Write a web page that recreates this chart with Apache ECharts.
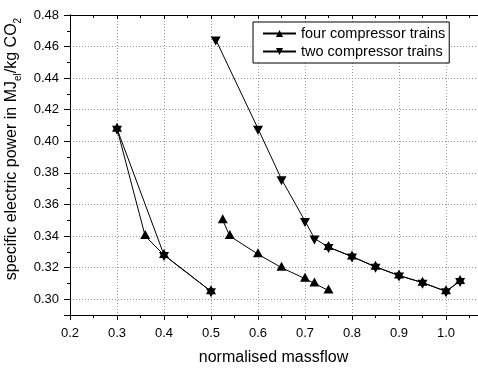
<!DOCTYPE html>
<html><head><meta charset="utf-8">
<script src="https://cdn.jsdelivr.net/npm/echarts@6/dist/echarts.min.js"></script>
<style>html,body{margin:0;padding:0;background:#fff}#c{width:478px;height:368px}</style>
</head><body><div id="c"></div>
<script>
// Data (x = normalised massflow, y = MJ_el/kg CO2)
const fourA = [[0.30,0.408],[0.36,0.340],[0.40,0.328],[0.50,0.305]];
const fourB = [[0.525,0.350],[0.54,0.340],[0.60,0.3285],[0.65,0.320],[0.70,0.313],[0.72,0.310],[0.75,0.3055]];
const fourC = [[0.75,0.333],[0.80,0.327],[0.85,0.3205],[0.90,0.315],[0.95,0.3105],[1.00,0.305],[1.03,0.3115]];
const twoA = [[0.30,0.408],[0.40,0.328],[0.50,0.305]];
const twoB = [[0.51,0.4645],[0.60,0.408],[0.65,0.376],[0.70,0.3495],[0.72,0.3385],[0.75,0.333],[0.80,0.327],[0.85,0.3205],[0.90,0.315],[0.95,0.3105],[1.00,0.305],[1.03,0.3115]];
const seriesNames = ['four compressor trains', 'two compressor trains'];
const xTitle = 'normalised massflow';

const UP = 'triangle';
const DOWN = 'path://M0,0L10,0L5,9Z';

function mk(name, data, sym, off) {
  return {
    type: 'line', name: name, data: data,
    symbol: sym, symbolSize: [10, 9], symbolOffset: [0, off], showSymbol: true,
    lineStyle: {color: '#000', width: 1},
    itemStyle: {color: '#000'},
    emphasis: {disabled: true},
    animation: false, xAxisIndex: 0, yAxisIndex: 1
  };
}

const chart = echarts.init(document.getElementById('c'), null, {renderer: 'canvas'});
chart.setOption({
  backgroundColor: '#fff',
  textStyle: {fontFamily: 'Liberation Sans, Arial, sans-serif'},
  grid: {left: 70, top: 15, right: -15, bottom: 53, containLabel: false, outerBoundsMode: 'none'},
  legend: {
    data: seriesNames, orient: 'vertical', left: 253, top: 22,
    itemWidth: 33, itemHeight: 9, itemGap: 3,
    padding: [4, 4, 4, 9],
    borderColor: '#000', borderWidth: 1, backgroundColor: '#fff',
    textStyle: {fontSize: 14.5, color: '#000'}
  },
  xAxis: [{
    type: 'value', min: 0.2, max: 1.1, interval: 0.1, position: 'bottom',
    name: xTitle, nameLocation: 'middle', nameGap: 35,
    nameTextStyle: {fontSize: 16, color: '#000', padding: [0, 16, 0, 0]},
    axisLine: {show: true, lineStyle: {color: '#000', width: 1}},
    axisTick: {show: true, inside: false, length: 5, lineStyle: {color: '#000'}},
    minorTick: {show: true, splitNumber: 2, length: 3, lineStyle: {color: '#000'}},
    axisLabel: {fontSize: 13, color: '#000', margin: 12, showMaxLabel: false,
      formatter: v => v.toFixed(1)},
    splitLine: {show: true, lineStyle: {color: '#999', type: [1, 2], width: 1}},
    minorSplitLine: {show: false}
  }, {
    type: 'value', min: 0.2, max: 1.1, interval: 0.1, position: 'top',
    axisLine: {show: true, lineStyle: {color: '#000', width: 1}},
    axisTick: {show: true, inside: true, length: 4, lineStyle: {color: '#000'}},
    minorTick: {show: true, splitNumber: 2, length: 3, lineStyle: {color: '#000'}},
    axisLabel: {show: false}, splitLine: {show: false}
  }],
  yAxis: [{
    type: 'value', min: 0.29, max: 0.48, interval: 0.01, position: 'left',
    axisLine: {show: true, lineStyle: {color: '#000', width: 1}},
    axisTick: {show: true, inside: false, length: 3, lineStyle: {color: '#000'}},
    axisLabel: {show: false}, splitLine: {show: false}
  }, {
    type: 'value', min: 0.29, max: 0.48, splitNumber: 10, position: 'left',
    name: 'specific electric power in MJ{sub|el}/kg CO{sub|2}',
    nameLocation: 'middle', nameRotate: 90, nameGap: 35,
    nameTextStyle: {fontSize: 16, color: '#000', lineHeight: 22, padding: [0, 0, 0, 32],
      rich: {sub: {fontSize: 10, lineHeight: 10, verticalAlign: 'bottom', color: '#000'}}},
    axisLine: {show: true, lineStyle: {color: '#000', width: 1}},
    axisTick: {show: true, inside: false, length: 6, lineStyle: {color: '#000'}},
    axisLabel: {fontSize: 13, color: '#000', margin: 11,
      formatter: v => (Math.abs(v * 50 - Math.round(v * 50)) < 1e-6 ? v.toFixed(2) : '')},
    splitLine: {show: true, lineStyle: {color: '#999', type: [1, 2], width: 1}}
  }],
  series: [
    mk(seriesNames[0], fourA, UP, -1.5),
    mk(seriesNames[1], twoA, DOWN, 1.5),
    mk(seriesNames[0], fourB, UP, -1.5),
    mk(seriesNames[1], twoB, DOWN, 1.5),
    mk(seriesNames[0], fourC, UP, -1.5)
  ]
});
</script></body></html>
